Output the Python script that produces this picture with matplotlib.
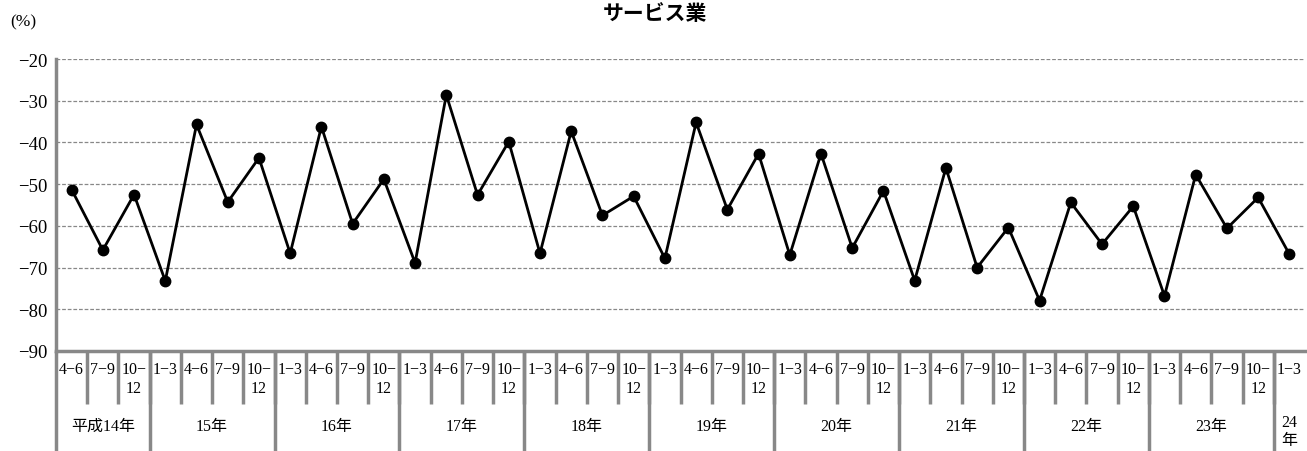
import matplotlib.pyplot as plt
import matplotlib.transforms as mtransforms

plt.rcParams['font.family'] = ['Liberation Serif', 'Noto Sans CJK JP']

quarters = ['4−6', '7−9', '10−\n12'] + ['1−3', '4−6', '7−9', '10−\n12'] * 9 + ['1−3']
values = [-51.3, -65.8, -52.5,
          -73.2, -35.7, -54.3, -43.7,
          -66.6, -36.2, -59.5, -48.8,
          -68.9, -28.6, -52.6, -39.8,
          -66.6, -37.3, -57.5, -52.9,
          -67.8, -35.2, -56.1, -42.7,
          -67.0, -42.7, -65.3, -51.6,
          -73.1, -46.1, -70.0, -60.4,
          -77.9, -54.4, -64.4, -55.3,
          -76.8, -47.7, -60.6, -53.2,
          -66.8]
year_labels = ['平成14年', '15年', '16年', '17年', '18年', '19年', '20年',
               '21年', '22年', '23年', '24\n年']
year_counts = [3, 4, 4, 4, 4, 4, 4, 4, 4, 4, 1]
yticks = [-20, -30, -40, -50, -60, -70, -80, -90]

W, H = 1307, 452
fig = plt.figure(figsize=(W / 100, H / 100), dpi=100)
ax = fig.add_axes([56 / W, 1 - 352 / H, (1305 - 56) / W, 292 / H])

x = list(range(len(values)))
ax.plot(x, values, color='black', lw=2, marker='o', ms=7.5, zorder=3)

ax.set_xlim(-0.5, len(values) - 0.5)
ax.set_ylim(-90, -20)
ax.set_yticks(yticks)
ax.set_yticklabels(['−%d' % abs(t) for t in yticks], fontsize=13.5)
ax.tick_params(axis='y', length=0, pad=6)
ax.set_xticks([])
for t in yticks[:-1]:
    ax.axhline(t, color='#888888', lw=0.9, ls=(0, (3, 1.5)), zorder=1)

gray = '#888888'
for s in ['top', 'right']:
    ax.spines[s].set_visible(False)
ax.spines['left'].set_color(gray)
ax.spines['left'].set_linewidth(2.5)
ax.spines['bottom'].set_color(gray)
ax.spines['bottom'].set_linewidth(2.5)

trans = mtransforms.blended_transform_factory(ax.transData, ax.transAxes)
q_bot = -(405 - 352) / 292
y_bot = -(452 - 352) / 292

# quarter labels and separators
for i, q in enumerate(quarters):
    ax.text(i, -0.035, q, transform=trans, ha='center', va='top',
            fontsize=11.5, linespacing=1.25)
    if i > 0:
        ax.plot([i - 0.5, i - 0.5], [0, q_bot], transform=trans, color=gray,
                lw=2.5, clip_on=False, solid_capstyle='butt')

# year labels and separators
start = 0
for lab, n in zip(year_labels, year_counts):
    mid = start + (n - 1) / 2
    if '\n' in lab:
        ax.text(mid, y_bot + 0.01, lab, transform=trans, ha='center', va='bottom',
                fontsize=11.5, linespacing=1.15)
    else:
        ax.text(mid, (q_bot + y_bot) / 2 + 0.005, lab, transform=trans,
                ha='center', va='center', fontsize=11.5)
    ax.plot([start - 0.5, start - 0.5], [0, y_bot], transform=trans, color=gray,
            lw=2.5, clip_on=False, solid_capstyle='butt')
    start += n

fig.text(10 / W, 1 - 22 / H, '(%)', fontsize=12.5, va='center', ha='left')
fig.text(655 / W, 1 - 13 / H, 'サービス業', fontsize=15, fontweight='bold',
         family='Noto Sans CJK JP', ha='center', va='center')

fig.savefig('out.png', dpi=100)
